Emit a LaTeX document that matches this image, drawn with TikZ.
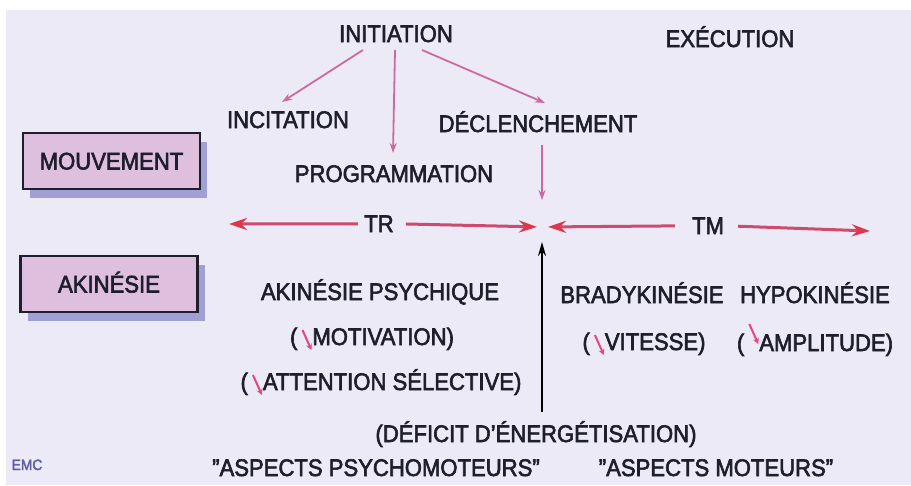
\documentclass[tikz,border=0pt]{standalone}
\usepackage{fontspec}
\setmainfont{Liberation Sans}[FakeStretch=0.92,UprightFeatures={FakeBold=2.5}]
\usetikzlibrary{arrows.meta,shadows,calc}
\definecolor{bgc}{RGB}{236,234,246}
\definecolor{txt}{RGB}{30,30,45}
\definecolor{mauve}{RGB}{205,105,160}
\definecolor{redarr}{RGB}{222,55,75}
\definecolor{shaft}{RGB}{205,75,110}
\definecolor{boxfill}{RGB}{222,192,222}
\definecolor{shadowc}{RGB}{130,130,200}
\definecolor{smallpink}{RGB}{228,70,130}
\definecolor{emcc}{RGB}{95,95,170}
\tikzset{
  lbl/.style={text=txt, font=\fontsize{24}{26}\selectfont, inner sep=1pt, anchor=base},
  boxlbl/.style={text=txt, font=\fontsize{24}{26}\selectfont, draw=txt, line width=2.5pt,
    fill=boxfill, minimum width=177pt, minimum height=56pt, text height=17pt, text depth=0pt,
    drop shadow={shadow xshift=7pt, shadow yshift=-9pt, fill=shadowc, opacity=0.7}},
  thinarr/.style={draw=mauve, line width=1.8pt, -{Stealth[length=10pt,width=7pt]}},
  bigarr/.style={draw=shaft, line width=3pt, -{Stealth[length=18pt,width=12pt,color=redarr]}},
  blkarr/.style={draw=black, line width=2pt, -{Stealth[length=14pt,width=8pt]}},
  smallarr/.style={draw=smallpink, line width=2pt, -{Stealth[length=6pt,width=6pt]}}
}
\newcommand\dnarr[1][0pt]{\raisebox{#1}{\tikz[baseline=0pt]\draw[smallarr] (0pt,15pt) -- (9pt,-5pt);}}
\begin{document}
\begin{tikzpicture}[x=1pt,y=-1pt]
\useasboundingbox (0,0) rectangle (911,485);
\fill[bgc] (6,10) rectangle (911,485);

% top labels
\node[lbl] (init) at (396,42) {INITIATION};
\node[lbl] (exec) at (730,47) {EXÉCUTION};
\node[lbl] (incit) at (288,128) {INCITATION};
\node[lbl] (decl) at (538,132) {DÉCLENCHEMENT};
\node[lbl] (prog) at (394,182) {PROGRAMMATION};

% boxes
\node[boxlbl] (mouv) at (111.5,161) {MOUVEMENT};
\node[boxlbl] (akin) at (109,284) {AKINÉSIE};

% TR / TM
\node[lbl] (TR) at (379,232) {TR};
\node[lbl] (TM) at (708,234) {TM};
\coordinate (X) at (542,227);
\coordinate (trL) at (229,224);
\coordinate (tmR) at (870,231);

% lower labels
\node[lbl] (akpsy) at (380,300) {AKINÉSIE PSYCHIQUE};
\node[lbl] (motiv) at (372,345) {(\,\dnarr MOTIVATION)};
\node[lbl] (attn) at (381,390) {(\,\dnarr ATTENTION SÉLECTIVE)};
\node[lbl] (brady) at (642,303) {BRADYKINÉSIE};
\node[lbl] (hypo) at (815,303) {HYPOKINÉSIE};
\node[lbl] (vit) at (644,350) {(\,\dnarr VITESSE)};
\node[lbl] (ampl) at (815,351) {(\,\dnarr[12pt]AMPLITUDE)};
\node[lbl] (deficit) at (536,442) {(DÉFICIT D'ÉNERGÉTISATION)};
\node[lbl] (aspsy) at (376,476) {\symbol{34}ASPECTS PSYCHOMOTEURS\symbol{34}};
\node[lbl] (asmot) at (716,476) {\symbol{34}ASPECTS MOTEURS\symbol{34}};
\node[lbl, text=emcc, font=\fontsize{15}{16}\selectfont] (emc) at (27,470) {EMC};

% initiation arrows
\draw[thinarr] ($(init.base)+(-33,8)$) -- ($(incit.base)+(-6,-26)$);
\draw[thinarr] ($(init.base)+(-1,8)$) -- ($(prog.base)+(-1,-29)$);
\draw[thinarr] ($(init.base)+(26,8)$) -- ($(decl.base)+(7,-29)$);
\draw[thinarr, shorten >=27pt] ($(decl.base)+(4,13)$) -- (X);

% horizontal arrows
\draw[bigarr, shorten <=5pt] (TR.west) -- (trL);
\draw[bigarr, shorten <=11pt, shorten >=5pt] (TR.east) -- (X);
\draw[bigarr, shorten <=16pt, shorten >=6pt] (TM.west) -- (X);
\draw[bigarr, shorten <=13pt] (TM.east) -- (tmR);

% black arrow
\draw[blkarr, shorten >=15pt, shorten <=8pt] (deficit.north -| X) -- (X);
\end{tikzpicture}
\end{document}
